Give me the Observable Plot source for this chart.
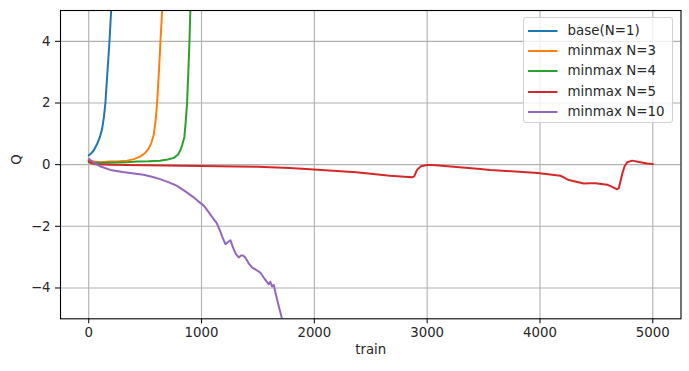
<!DOCTYPE html>
<html>
<head>
<meta charset="utf-8">
<script src="https://cdn.jsdelivr.net/npm/d3@7"></script>
<script src="https://cdn.jsdelivr.net/npm/@observablehq/plot@0.6"></script>
<style>
  body { margin: 0; background: white; }
  #wrap { position: relative; width: 689px; height: 371px; font-family: "DejaVu Sans", sans-serif; }
  #legend { position: absolute; left: 522.5px; top: 17px; width: 150px; height: 105.5px;
    border: 1px solid #d0d0d0; border-radius: 3px; background: rgba(255,255,255,0.8); box-sizing: border-box; }
  .row { position: absolute; left: 0; height: 20px; width: 100%; }
  .row svg { position: absolute; left: 4px; top: 0; }
  .row span { position: absolute; left: 44px; top: 1px; font-size: 13.4px; line-height: 18px; color: #262626; white-space: nowrap; }
</style>
</head>
<body>
<div id="wrap"></div>
<script>
// ---- data ----
const seriesNames = ["base(N=1)", "minmax N=3", "minmax N=4", "minmax N=5", "minmax N=10"];
const seriesColors = ["#1f77b4", "#ff7f0e", "#2ca02c", "#d62728", "#9467bd"];

const trainBase = [0, 20, 44, 74, 95, 119, 135, 148, 163, 175, 184, 199, 210];
const qBase     = [0.3, 0.36, 0.46, 0.67, 0.85, 1.16, 1.55, 2.0, 2.84, 3.5, 4.0, 5.0, 5.7];

const trainN3 = [0, 50, 100, 190, 270, 340, 400, 456, 500, 530, 555, 576, 592, 606, 622, 636, 651, 665];
const qN3     = [0.13, 0.1, 0.08, 0.1, 0.11, 0.13, 0.18, 0.26, 0.38, 0.51, 0.7, 0.96, 1.4, 2.0, 3.0, 4.0, 5.0, 6.0];

const trainN4 = [0, 44, 150, 338, 430, 530, 632, 700, 755, 790, 812, 830, 848, 860, 872, 883, 893, 901, 910];
const qN4     = [0.08, 0.06, 0.06, 0.08, 0.1, 0.11, 0.13, 0.17, 0.22, 0.32, 0.46, 0.65, 0.9, 1.4, 2.0, 3.0, 4.0, 5.0, 6.0];

const trainN5 = [0, 20, 60, 200, 500, 1000, 1500, 1780, 1995, 2370, 2670, 2867, 2885, 2910, 2945, 3000, 3050, 3470, 3560, 3980, 4181, 4215, 4255, 4388, 4440, 4492, 4596, 4640, 4684, 4699, 4729, 4750, 4773, 4817, 4890, 4950, 5000];
const qN5     = [0.12, 0.05, 0.01, 0.0, -0.02, -0.04, -0.07, -0.11, -0.16, -0.25, -0.36, -0.41, -0.38, -0.17, -0.05, -0.01, -0.01, -0.14, -0.17, -0.27, -0.36, -0.42, -0.5, -0.61, -0.6, -0.6, -0.65, -0.72, -0.8, -0.76, -0.3, -0.05, 0.08, 0.13, 0.08, 0.04, 0.02];

const trainN10 = [0, 50, 100, 191, 300, 400, 485, 560, 632, 700, 779, 850, 931, 975, 1020, 1065, 1108, 1135, 1165, 1185, 1212, 1232, 1256, 1280, 1305, 1330, 1350, 1370, 1389, 1418, 1449, 1478, 1521, 1558, 1596, 1610, 1625, 1640, 1665, 1692, 1715, 1730];
const qN10     = [0.19, 0.05, -0.05, -0.17, -0.24, -0.29, -0.33, -0.39, -0.47, -0.56, -0.68, -0.85, -1.06, -1.2, -1.33, -1.55, -1.77, -1.9, -2.15, -2.35, -2.58, -2.52, -2.45, -2.7, -2.9, -3.01, -2.95, -2.95, -3.02, -3.2, -3.34, -3.4, -3.5, -3.7, -3.88, -3.8, -3.95, -3.9, -4.3, -4.7, -5.02, -5.3];

const xTicks = [0, 1000, 2000, 3000, 4000, 5000];
const yTicks = [-4, -2, 0, 2, 4];

const allTrain = [trainBase, trainN3, trainN4, trainN5, trainN10];
const allQ = [qBase, qN3, qN4, qN5, qN10];
const rows = [];
seriesNames.forEach((name, i) => {
  allTrain[i].forEach((t, j) => rows.push({train: t, Q: allQ[i][j], series: name}));
});

const fmt = d3.format("d");
const chart = Plot.plot({
  width: 689, height: 371,
  marginLeft: 60, marginRight: 8.5, marginTop: 10, marginBottom: 52.7,
  style: {fontFamily: "DejaVu Sans", fontSize: "13.3px", color: "#262626", background: "white"},
  x: {domain: [-250, 5250]},
  y: {domain: [-5, 5]},
  color: {domain: seriesNames, range: seriesColors},
  marks: [
    Plot.gridX(xTicks, {stroke: "#b0b0b0", strokeOpacity: 1, strokeWidth: 1.1}),
    Plot.gridY(yTicks, {stroke: "#b0b0b0", strokeOpacity: 1, strokeWidth: 1.1}),
    Plot.line(rows, {x: "train", y: "Q", z: "series", stroke: "series", strokeWidth: 2, clip: true}),
    Plot.frame({stroke: "black", strokeWidth: 1.1}),
    Plot.axisX(xTicks, {tickSize: 5, tickPadding: 4, label: null, tickFormat: fmt, stroke: "black", fontSize: 13.3}),
    Plot.axisY(yTicks, {tickSize: 5, tickPadding: 5, label: null, tickFormat: fmt, stroke: "black", fontSize: 13.3}),
    Plot.text(["Q"], {text: d => d, frameAnchor: "left", dx: -44, rotate: -90, fontSize: 13.3}),
    Plot.text(["train"], {text: d => d, frameAnchor: "bottom", dy: 35, fontSize: 13.3})
  ]
});
const wrap = document.getElementById("wrap");
wrap.appendChild(chart);

const legend = document.createElement("div");
legend.id = "legend";
seriesNames.forEach((name, i) => {
  const row = document.createElement("div");
  row.className = "row";
  row.style.top = (3 + i * 20.2) + "px";
  row.innerHTML = `<svg width="32" height="20"><line x1="0" x2="29.5" y1="10" y2="10" stroke="${seriesColors[i]}" stroke-width="2"/></svg><span>${name}</span>`;
  legend.appendChild(row);
});
wrap.appendChild(legend);
</script>
</body>
</html>
